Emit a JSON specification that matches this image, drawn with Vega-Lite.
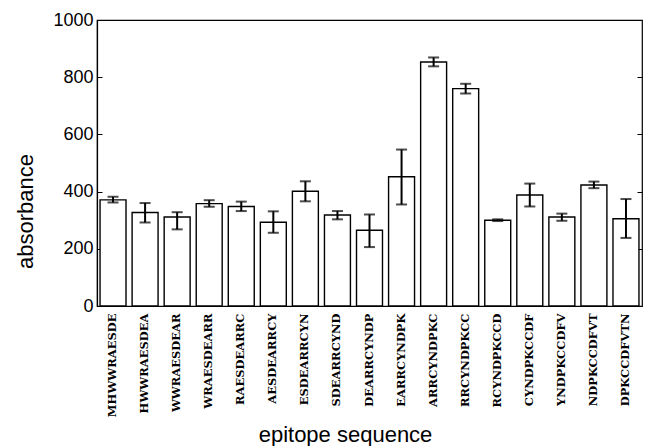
{
  "$schema": "https://vega.github.io/schema/vega-lite/v6.json",
  "autosize": "none",
  "width": 545,
  "height": 286,
  "padding": {"left": 97, "top": 20, "right": 5, "bottom": 140},
  "background": "white",
  "config": {
    "view": {"stroke": "black", "strokeWidth": 1.2},
    "axis": {"domainColor": "black", "domainWidth": 1.2, "grid": false, "ticks": false}
  },
  "resolve": {"axis": {"y": "independent"}},
  "data": {
    "values": [
      {"seq": "MHWWRAESDE", "mean": 371, "lo": 362, "hi": 382},
      {"seq": "HWWRAESDEA", "mean": 327, "lo": 292, "hi": 360},
      {"seq": "WWRAESDEAR", "mean": 311, "lo": 268, "hi": 328},
      {"seq": "WRAESDEARR", "mean": 358, "lo": 347, "hi": 370},
      {"seq": "RAESDEARRC", "mean": 348, "lo": 332, "hi": 365},
      {"seq": "AESDEARRCY", "mean": 293, "lo": 256, "hi": 331},
      {"seq": "ESDEARRCYN", "mean": 401, "lo": 366, "hi": 436},
      {"seq": "SDEARRCYND", "mean": 318, "lo": 303, "hi": 332},
      {"seq": "DEARRCYNDP", "mean": 265, "lo": 206, "hi": 320},
      {"seq": "EARRCYNDPK", "mean": 452, "lo": 355, "hi": 547},
      {"seq": "ARRCYNDPKC", "mean": 853, "lo": 838, "hi": 869},
      {"seq": "RRCYNDPKCC", "mean": 760, "lo": 743, "hi": 777},
      {"seq": "RCYNDPKCCD", "mean": 300, "lo": 297, "hi": 303},
      {"seq": "CYNDPKCCDF", "mean": 388, "lo": 348, "hi": 428},
      {"seq": "YNDPKCCDFV", "mean": 311, "lo": 298, "hi": 323},
      {"seq": "NDPKCCDFVT", "mean": 423, "lo": 412, "hi": 435},
      {"seq": "DPKCCDFVTN", "mean": 305, "lo": 238, "hi": 374}
    ]
  },
  "encoding": {
    "x": {
      "field": "seq",
      "type": "nominal",
      "sort": null,
      "scale": {"paddingInner": 0.19, "paddingOuter": 0.095},
      "axis": {
        "title": "epitope sequence",
        "titleFont": "Liberation Sans",
        "titleFontSize": 22,
        "titleFontWeight": "normal",
        "titleColor": "black",
        "titleAlign": "center",
        "titleBaseline": "alphabetic",
        "titleX": 248,
        "titleY": 135,
        "labelAngle": -90,
        "labelFont": "DejaVu Serif",
        "labelFontWeight": "bold",
        "labelFontSize": 11.5,
        "labelColor": "black",
        "labelPadding": 7
      }
    }
  },
  "layer": [
    {
      "mark": {"type": "bar", "fill": "white", "stroke": "black", "strokeWidth": 1.4},
      "encoding": {
        "y": {
          "field": "mean",
          "type": "quantitative",
          "scale": {"domain": [0, 1000], "nice": false},
          "axis": {
            "title": "absorbance",
            "values": [0, 200, 400, 600, 800, 1000],
            "format": "d",
            "ticks": true,
            "tickSize": -5,
            "tickColor": "black",
            "titleFont": "Liberation Sans",
            "titleFontSize": 22,
            "titleFontWeight": "normal",
            "titleColor": "black",
            "titleAngle": -90,
            "titleAlign": "center",
            "titleBaseline": "alphabetic",
            "titleX": -65,
            "titleY": 191,
            "labelFont": "Liberation Sans",
            "labelFontSize": 18,
            "labelColor": "black",
            "labelPadding": 9
          }
        }
      }
    },
    {
      "mark": {"type": "rule", "stroke": "black", "strokeWidth": 2},
      "encoding": {
        "y": {"field": "lo", "type": "quantitative", "axis": null},
        "y2": {"field": "hi"}
      }
    },
    {
      "mark": {"type": "tick", "color": "black", "thickness": 2, "size": 11},
      "encoding": {"y": {"field": "lo", "type": "quantitative", "axis": null}}
    },
    {
      "mark": {"type": "tick", "color": "black", "thickness": 2, "size": 11},
      "encoding": {
        "y": {
          "field": "hi",
          "type": "quantitative",
          "axis": {
            "orient": "right",
            "title": null,
            "labels": false,
            "domain": false,
            "values": [200, 400, 600, 800],
            "ticks": true,
            "tickSize": -5,
            "tickColor": "black"
          }
        }
      }
    }
  ]
}
